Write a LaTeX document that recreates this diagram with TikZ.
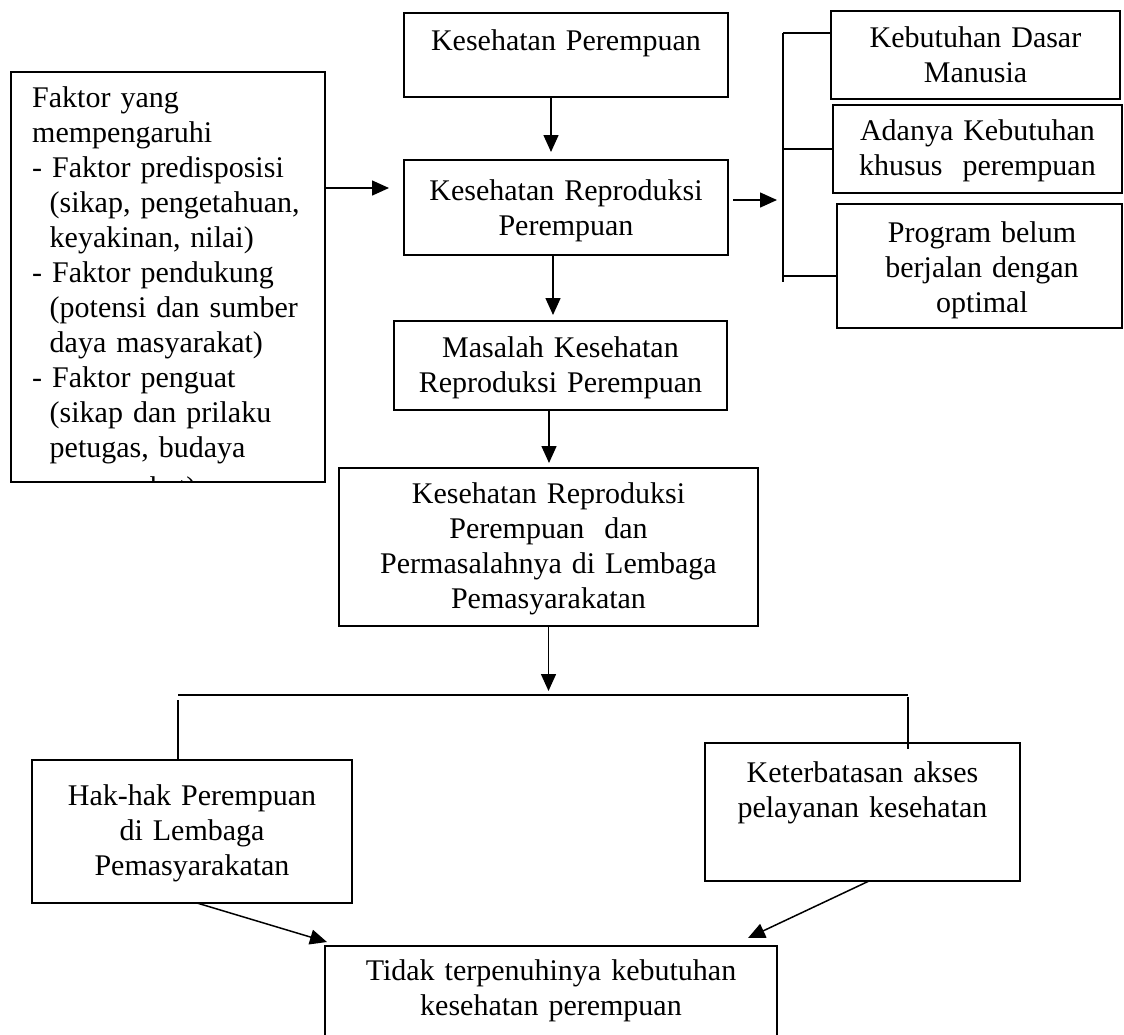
\documentclass[tikz,border=0pt]{standalone}
\usepackage{fontspec}
\setmainfont{Liberation Serif}
\usetikzlibrary{arrows.meta,calc}
\newcommand\diagfont{\fontsize{30}{35}\selectfont}
\begin{document}
\begin{tikzpicture}[x=1pt,y=-1pt,
  bx/.style={draw, line width=1.5pt, inner sep=0pt, outer sep=0pt},
  tx/.style={font=\diagfont, align=center, anchor=base, inner sep=0pt, text width=#1},
  tx/.default=300pt,
  ln/.style={line width=1.5pt},
  arr/.style={line width=1.5pt, -{Triangle[length=17pt,width=15pt]}}]
\clip (0,0) rectangle (1124,1034);
\fill[white] (0,0) rectangle (1124,1034);

% boxes
\node[bx, minimum width=314pt, minimum height=410pt] (lf)   at (168,277) {};
\node[bx, minimum width=324pt, minimum height=84pt]  (kp)   at (566,55) {};
\node[bx, minimum width=324pt, minimum height=95pt]  (krp)  at (566,207.5) {};
\node[bx, minimum width=333pt, minimum height=89pt]  (mkrp) at (560.5,365.5) {};
\node[bx, minimum width=419pt, minimum height=158pt] (krpd) at (548.5,547) {};
\node[bx, minimum width=289pt, minimum height=88pt]  (kdm)  at (975.5,55) {};
\node[bx, minimum width=289pt, minimum height=88pt]  (akk)  at (977.5,149) {};
\node[bx, minimum width=285pt, minimum height=124pt] (pbb)  at (979.5,266) {};
\node[bx, minimum width=320pt, minimum height=143pt] (hak)  at (192,831.5) {};
\node[bx, minimum width=315pt, minimum height=138pt] (ket)  at (862.5,812) {};
\node[bx, minimum width=452pt, minimum height=104pt] (tdk)  at (551,998) {};

% texts (the factor list runs past the bottom of its box and is cut off there)
\begin{scope}
  \clip (lf.north west) rectangle (lf.south east);
  \node[tx=300pt, align=left, anchor=base west] (lft) at (32,107)
    {Faktor yang\\ mempengaruhi\\ - Faktor predisposisi\\
     \hspace*{17.5pt}(sikap, pengetahuan,\\ \hspace*{17.5pt}keyakinan, nilai)\\
     - Faktor pendukung\\ \hspace*{17.5pt}(potensi dan sumber\\
     \hspace*{17.5pt}daya masyarakat)\\ - Faktor penguat\\
     \hspace*{17.5pt}(sikap dan prilaku\\ \hspace*{17.5pt}petugas, budaya\\[5pt]
     \hspace*{17.5pt}masyarakat)};
\end{scope}
\node[tx=320pt] (kpt)   at (566,50)    {Kesehatan Perempuan};
\node[tx=320pt] (krpt)  at (566,200)   {Kesehatan Reproduksi\\ Perempuan};
\node[tx=330pt] (mkrpt) at (560.5,357) {Masalah Kesehatan\\ Reproduksi Perempuan};
\node[tx=410pt] (krpdt) at (548.5,503) {Kesehatan Reproduksi\\ Perempuan\ \ dan\\ Permasalahnya di Lembaga\\ Pemasyarakatan};
\node[tx=285pt] (kdmt)  at (975.5,47)  {Kebutuhan Dasar\\ Manusia};
\node[tx=285pt] (akkt)  at (977.5,140) {Adanya Kebutuhan\\ khusus\ \ perempuan};
\node[tx=280pt] (pbbt)  at (982,242)   {Program belum\\ berjalan dengan\\ optimal};
\node[tx=316pt] (hakt)  at (192,805)   {Hak-hak Perempuan\\ di Lembaga\\ Pemasyarakatan};
\node[tx=310pt] (kett)  at (862.5,782) {Keterbatasan akses\\ pelayanan kesehatan};
\node[tx=450pt] (tdkt)  at (551,980)   {Tidak terpenuhinya kebutuhan\\ kesehatan perempuan};

% helper points
\coordinate (hl) at (178,695);
\coordinate (hr) at (908,695);
\coordinate (bt) at (783,33);
\coordinate (bb) at (783,282);
\coordinate (la) at ($(lf.north east)+(0,116)$);
\coordinate (ra) at ($(krp.east)+(0,-7.5)$);
\coordinate (pa) at ($(pbb.west)+(0,10)$);

% connectors
\draw[arr, shorten >=8pt] ([xshift=-15pt]kp.south) -- ([xshift=-15pt]krp.north);
\draw[arr, shorten >=15pt] (la) -- (la -| krp.west);
\draw[arr, shorten <=5pt, shorten >=6pt] (ra) -- (ra -| bt);
\draw[ln] (bt) -- (bb);
\draw[ln] (bt) -- (bt -| kdm.west);
\draw[ln] (akk.west -| bt) -- (akk.west);
\draw[ln] (pa -| bt) -- (pa);
\draw[arr, shorten >=6pt] ([xshift=-13pt]krp.south) -- ([xshift=-13pt]krp.south |- mkrp.north);
\draw[arr, shorten >=5pt] ([xshift=-11.5pt]mkrp.south) -- ([xshift=-11.5pt]mkrp.south |- krpd.north);
\draw[arr, shorten >=4pt] (krpd.south) -- (krpd.south |- hl);
\draw[ln] (hl) -- (hr);
\draw[ln] ($(hl)+(0,5)$) -- (hl |- hak.north);
\draw[ln] ($(hr)+(0,2)$) -- ($(hr |- ket.north)+(0,6)$);
\draw[arr] ([xshift=5pt]hak.south) -- ($(tdk.north west)+(2,-4)$);
\draw[arr] ([xshift=6.5pt]ket.south) -- ($(tdk.north east)+(-29,-8)$);
\end{tikzpicture}
\end{document}
